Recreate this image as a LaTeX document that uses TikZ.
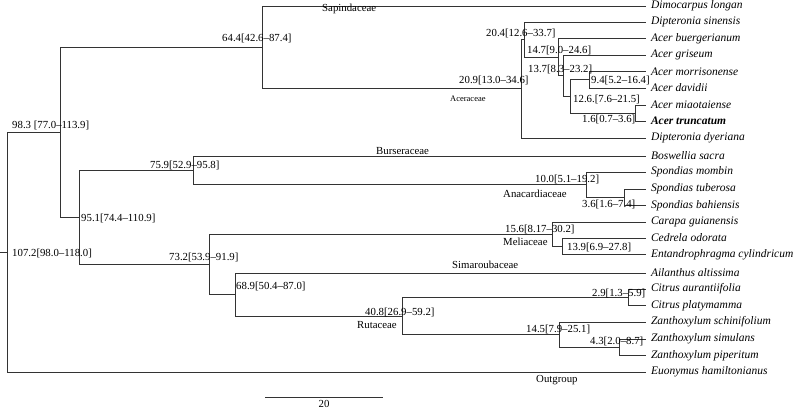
\documentclass[tikz,border=0pt]{standalone}
\usepackage{fontspec}
\setmainfont{Liberation Serif}
\newcommand{\lblfont}{\fontsize{10.8}{12}\selectfont}
\newcommand{\leaffont}{\fontsize{11.5}{13}\selectfont\itshape}
\tikzset{
  branch/.style={draw=black!80, line width=0.8pt},
  lbl/.style={anchor=west, inner sep=0pt, font=\lblfont},
  smalllbl/.style={anchor=west, inner sep=0pt, font=\fontsize{8.5}{10}\selectfont},
  leaf/.style={anchor=west, inner xsep=5pt, inner ysep=0pt, outer sep=0pt, font=\leaffont},
}
\begin{document}
\begin{tikzpicture}[x=1pt,y=-1pt]
\useasboundingbox (0,0) rectangle (794,408);
% leaves
\node[leaf] (L1) at (646,6) {Dimocarpus longan};
\node[leaf] (L2) at (646,22) {Dipteronia sinensis};
\node[leaf] (L3) at (646,38.5) {Acer buergerianum};
\node[leaf] (L4) at (646,55) {Acer griseum};
\node[leaf] (L5) at (646,71.5) {Acer morrisonense};
\node[leaf] (L6) at (646,88) {Acer davidii};
\node[leaf] (L7) at (646,105) {Acer miaotaiense};
\node[leaf, font=\leaffont\bfseries] (L8) at (646,121) {Acer truncatum};
\node[leaf] (L9) at (646,138) {Dipteronia dyeriana};
\node[leaf] (L10) at (646,156) {Boswellia sacra};
\node[leaf] (L11) at (646,172) {Spondias mombin};
\node[leaf] (L12) at (646,189) {Spondias tuberosa};
\node[leaf] (L13) at (646,205.5) {Spondias bahiensis};
\node[leaf] (L14) at (646,222) {Carapa guianensis};
\node[leaf] (L15) at (646,238) {Cedrela odorata};
\node[leaf] (L16) at (646,254.5) {Entandrophragma cylindricum};
\node[leaf] (L17) at (646,273) {Ailanthus altissima};
\node[leaf] (L18) at (646,289) {Citrus aurantiifolia};
\node[leaf] (L19) at (646,305.5) {Citrus platymamma};
\node[leaf] (L20) at (646,322) {Zanthoxylum schinifolium};
\node[leaf] (L21) at (646,339) {Zanthoxylum simulans};
\node[leaf] (L22) at (646,355.5) {Zanthoxylum piperitum};
\node[leaf] (L23) at (646,372) {Euonymus hamiltonianus};
% internal nodes
\coordinate (root) at (7,252.2);
\coordinate (stub) at (0,252.2);
\coordinate (n983) at (60,132.3);
\coordinate (n644) at (262,47.4);
\coordinate (n209) at (521,88.8);
\coordinate (n204) at (524,39.55);
\coordinate (n147) at (558,57.1);
\coordinate (n137) at (563,75.7);
\coordinate (n126) at (570,96.4);
\coordinate (n94) at (589,79.75);
\coordinate (n16) at (635,113);
\coordinate (n951) at (79,217.3);
\coordinate (n759) at (193,170.3);
\coordinate (n100) at (586,184.6);
\coordinate (n36) at (624,197.25);
\coordinate (n732) at (209,264.3);
\coordinate (n156) at (552,234.1);
\coordinate (n139) at (562,246.25);
\coordinate (n689) at (235,294.5);
\coordinate (n408) at (402,315.9);
\coordinate (n29) at (628,297.25);
\coordinate (n145) at (559,334.6);
\coordinate (n43) at (619,347.25);
% branches
\draw[branch] (stub) -- (root);
\draw[branch] (root) |- (n983);
\draw[branch] (root) |- (L23.west);
\draw[branch] (n983) |- (n644);
\draw[branch] (n983) |- (n951);
\draw[branch] (n644) |- (L1.west);
\draw[branch] (n644) |- (n209);
\draw[branch] (n209) |- (n204);
\draw[branch] (n209) |- (L9.west);
\draw[branch] (n204) |- (L2.west);
\draw[branch] (n204) |- (n147);
\draw[branch] (n147) |- (L3.west);
\draw[branch] (n147) |- (n137);
\draw[branch] (n137) |- (L4.west);
\draw[branch] (n137) |- (n126);
\draw[branch] (n126) |- (n94);
\draw[branch] (n126) |- (n16);
\draw[branch] (n94) |- (L5.west);
\draw[branch] (n94) |- (L6.west);
\draw[branch] (n16) |- (L7.west);
\draw[branch] (n16) |- (L8.west);
\draw[branch] (n951) |- (n759);
\draw[branch] (n951) |- (n732);
\draw[branch] (n759) |- (L10.west);
\draw[branch] (n759) |- (n100);
\draw[branch] (n100) |- (L11.west);
\draw[branch] (n100) |- (n36);
\draw[branch] (n36) |- (L12.west);
\draw[branch] (n36) |- (L13.west);
\draw[branch] (n732) |- (n156);
\draw[branch] (n732) |- (n689);
\draw[branch] (n156) |- (L14.west);
\draw[branch] (n156) |- (n139);
\draw[branch] (n139) |- (L15.west);
\draw[branch] (n139) |- (L16.west);
\draw[branch] (n689) |- (L17.west);
\draw[branch] (n689) |- (n408);
\draw[branch] (n408) |- (n29);
\draw[branch] (n408) |- (n145);
\draw[branch] (n29) |- (L18.west);
\draw[branch] (n29) |- (L19.west);
\draw[branch] (n145) |- (L20.west);
\draw[branch] (n145) |- (n43);
\draw[branch] (n43) |- (L21.west);
\draw[branch] (n43) |- (L22.west);
% node labels
\node[lbl] (t983) at (12,125) {98.3 [77.0--113.9]};
\node[lbl] (t644) at (222,38) {64.4[42.6--87.4]};
\node[lbl] (tSap) at (322,9) {Sapindaceae};
\node[lbl] (t204) at (486,33) {20.4[12.6--33.7]};
\node[lbl] (t209) at (459,80) {20.9[13.0--34.6]};
\node[smalllbl] (tAce) at (450,99) {Aceraceae};
\node[lbl] (t147) at (527,50) {14.7[9.0--24.6]};
\node[lbl] (t137) at (528,69) {13.7[8.3--23.2]};
\node[lbl] (t94) at (591,80.5) {9.4[5.2--16.4]};
\node[lbl] (t126) at (573,99) {12.6.[7.6--21.5]};
\node[lbl] (t16) at (582,119.5) {1.6[0.7--3.6]};
\node[lbl] (t759) at (150,165) {75.9[52.9--95.8]};
\node[lbl] (tBur) at (376,151) {Burseraceae};
\node[lbl] (t951) at (81,218) {95.1[74.4--110.9]};
\node[lbl] (t1072) at (12,253) {107.2[98.0--118.0]};
\node[lbl] (t732) at (169,257) {73.2[53.9--91.9]};
\node[lbl] (t100) at (535,179) {10.0[5.1--19.2]};
\node[lbl] (tAna) at (503,194) {Anacardiaceae};
\node[lbl] (t36) at (582,204) {3.6[1.6--7.4]};
\node[lbl] (t156) at (505,229) {15.6[8.17--30.2]};
\node[lbl] (tMel) at (503,242) {Meliaceae};
\node[lbl] (t139) at (567,247) {13.9[6.9--27.8]};
\node[lbl] (tSim) at (452,265) {Simaroubaceae};
\node[lbl] (t689) at (236,286) {68.9[50.4--87.0]};
\node[lbl] (t408) at (365,312) {40.8[26.9--59.2]};
\node[lbl] (tRut) at (357,325) {Rutaceae};
\node[lbl] (t29) at (592,293) {2.9[1.3--5.9]};
\node[lbl] (t145) at (526,329) {14.5[7.9--25.1]};
\node[lbl] (t43) at (590,341) {4.3[2.0--8.7]};
\node[lbl] (tOut) at (536,380) {Outgroup};
% scale bar
\coordinate (sbA) at (265,397);
\coordinate (sbB) at (383,397);
\draw[branch] (sbA) -- (sbB);
\node[font=\lblfont, inner sep=0pt, anchor=base] (sbl) at (324,407) {20};
\end{tikzpicture}
\end{document}
